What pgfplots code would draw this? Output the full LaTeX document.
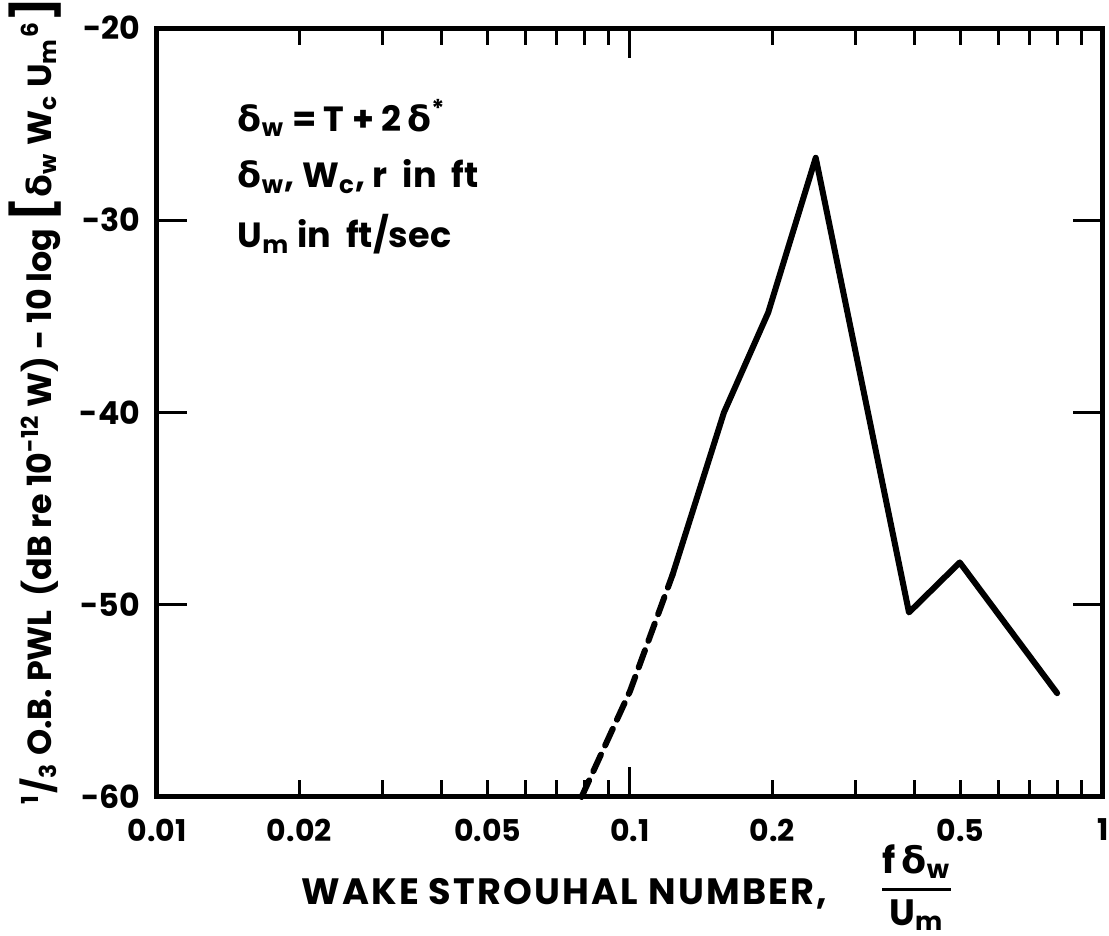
\documentclass[border=0pt]{standalone}
\usepackage{pgfplots}
\pgfplotsset{compat=1.18}
\usepackage{fontspec}
\setmainfont{Poppins}
\newfontfamily\gr{DejaVu Sans}
\newcommand\dl{{\gr δ}}
\begin{document}
\begin{tikzpicture}[font=\bfseries]
\begin{axis}[
  name=ax,
  scale only axis,
  width=283.8pt, height=230.7pt,
  xmode=log, log basis x=10,
  xmin=0.01, xmax=1, ymin=-60, ymax=-20,
  xtick={0.01,0.02,0.05,0.2,0.5,1},
  xticklabels={0.01,0.02,0.05,0.2,0.5,1},
  minor xtick={0.03,0.04,0.06,0.07,0.08,0.09,0.3,0.4,0.6,0.7,0.8,0.9},
  extra x ticks={0.1},
  extra x tick labels={0.1},
  extra x tick style={major tick length=9pt},
  ytick=\empty,
  extra y ticks={-60,-50,-40,-30,-20},
  extra y tick labels={-60,-50,-40,-30,-20},
  extra y tick style={major tick length=9pt},
  major tick length=5pt, minor tick length=5pt,
  tick align=inside,
  every tick/.append style={line width=0.9pt, black},
  axis line style={line width=1.5pt},
  xticklabel style={font=\bfseries\fontsize{9}{11}\selectfont, yshift=-3pt},
  yticklabel style={font=\bfseries\fontsize{9.5}{11}\selectfont, xshift=-1.5pt},
  /pgf/number format/assume math mode=true,
  clip=false,
]
\addplot[black, line width=1.8pt, dash pattern=on 5.5pt off 3pt, line cap=round]
  coordinates {(0.079,-60) (0.1,-54.5) (0.123,-48.45)};
\addplot[black, line width=1.8pt, line join=round, line cap=round]
  coordinates {(0.123,-48.45) (0.158,-40.0) (0.196,-34.8) (0.247,-26.75) (0.389,-50.4) (0.498,-47.8) (0.80,-54.6)};

\node[anchor=base west, font=\bfseries\fontsize{10.5}{12}\selectfont] at (rel axis cs:0.073,0.866)
  {\dl\textsubscript{w} = T + 2\,\dl\textsuperscript{*}};
\node[anchor=base west, font=\bfseries\fontsize{10.5}{12}\selectfont] at (rel axis cs:0.073,0.792)
  {\dl\textsubscript{w}, W\textsubscript{c}, r\ \ in\ \ ft};
\node[anchor=base west, font=\bfseries\fontsize{10.5}{12}\selectfont] at (rel axis cs:0.073,0.714)
  {U\textsubscript{m} in\ \ ft/sec};

\node[anchor=base, font=\bfseries\fontsize{11}{13}\selectfont] at (rel axis cs:0.498,-0.1404)
  {\addfontfeatures{LetterSpace=6}WAKE STROUHAL NUMBER,\hspace{1.4em}%
   \raisebox{2pt}{$\displaystyle{\hbox{f\,\dl\textsubscript{w}}\above 0.9pt\hbox{U\textsubscript{m}}}$}};

\node[rotate=90, anchor=base, font=\bfseries\fontsize{10}{12}\selectfont] at (rel axis cs:-0.112,0.515)
  {\textsuperscript{1}/\textsubscript{3} O.B. PWL\ \ (dB re 10\textsuperscript{-12} W) - 10 log
   {\fontsize{14}{14}\selectfont[}\dl\textsubscript{w} W\textsubscript{c} U\textsubscript{m}\textsuperscript{6}{\fontsize{14}{14}\selectfont]}};
\end{axis}
\pgfresetboundingbox
\path[use as bounding box] ([xshift=-47.1pt, yshift=-41.7pt]ax.south west) rectangle ([xshift=1.8pt, yshift=8.4pt]ax.north east);
\end{tikzpicture}
\end{document}
